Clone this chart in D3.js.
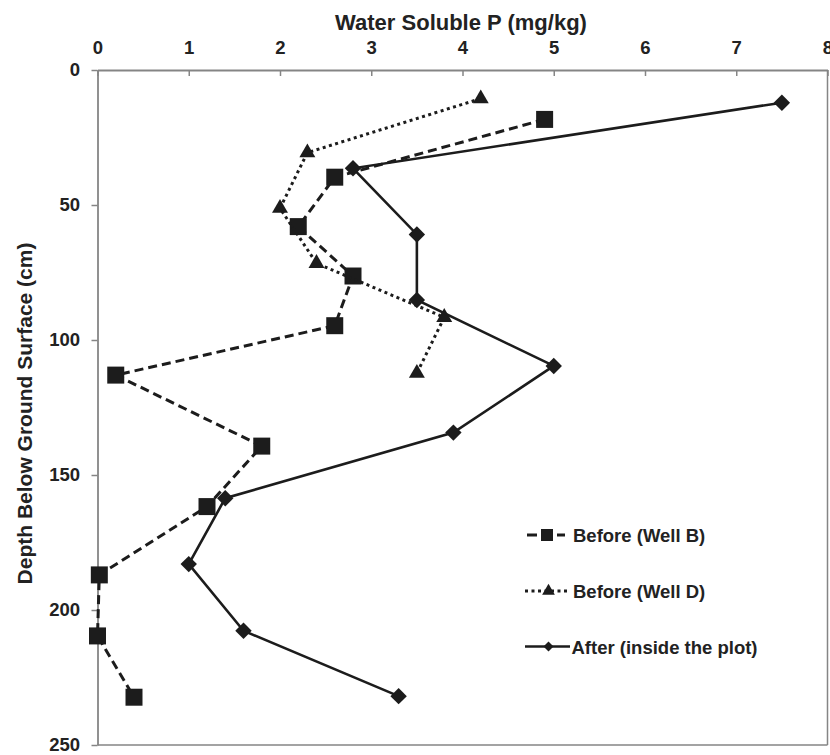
<!DOCTYPE html>
<html>
<head>
<meta charset="utf-8">
<script src="https://cdn.jsdelivr.net/npm/d3@7"></script>
<style>
  body { margin: 0; background: #fff; }
  svg text { font-family: Arial, "Liberation Sans", sans-serif; font-weight: bold; fill: #222; }
</style>
</head>
<body>
<svg id="chart" width="830" height="755"></svg>
<script>
// Water soluble P vs depth, three profiles.

const xTicks = [0, 1, 2, 3, 4, 5, 6, 7, 8]
const yTicks = [0, 50, 100, 150, 200, 250]

// [P (mg/kg), depth (cm)]
const wellB = [[4.9, 18.3], [2.6, 39.7], [2.2, 58], [2.8, 76.3], [2.6, 94.7], [0.2, 113],
  [1.8, 139.3], [1.2, 161.7], [0.02, 187], [0.0, 209.6], [0.4, 232.3]]
const wellD = [[4.2, 10.6], [2.3, 30.6], [2.0, 51.2], [2.4, 71.6], [3.8, 91.6], [3.5, 112.3]]
const after = [[7.5, 12.1], [2.8, 36.4], [3.5, 60.9], [3.5, 85.2], [5.0, 109.6], [3.9, 134.3],
  [1.4, 158.6], [1.0, 183], [1.6, 207.7], [3.3, 231.9]]

const seriesNames = ["Before (Well B)", "Before (Well D)", "After (inside the plot)"]

const INK = "#1c1c1c"
const AXIS = "#858585"

// d3's diamond is too skinny, use a square turned 45deg
function diamond(size) {
  var p = d3.symbol().type(d3.symbolSquare).size(size)
  return p
}

function main() {
  var svg = d3.select("#chart")

  var x = d3.scaleLinear().domain([0, 8]).range([97.5, 827.5])
  var y = d3.scaleLinear().domain([0, 250]).range([70, 745])

  // frame: bottom + right are plain lines
  svg.append("line").attr("x1", x(0)).attr("x2", x(8)).attr("y1", y(250)).attr("y2", y(250))
    .attr("stroke", AXIS).attr("stroke-width", 1.5)
  svg.append("line").attr("x1", x(8)).attr("x2", x(8)).attr("y1", y(0)).attr("y2", y(250))
    .attr("stroke", AXIS).attr("stroke-width", 1.5)

  // top axis, ticks point down into the plot
  var gx = svg.append("g").attr("transform", `translate(0,${y(0)})`)
    .call(d3.axisTop(x).tickValues(xTicks).tickSizeInner(-6).tickSizeOuter(0).tickPadding(16))
  gx.selectAll("text").attr("font-size", 18.5).attr("fill", "#222")
  gx.select(".domain").attr("stroke", AXIS).attr("stroke-width", 2.2)
  gx.selectAll(".tick line").attr("stroke", AXIS).attr("stroke-width", 1.5)

  var gy = svg.append("g").attr("transform", `translate(${x(0)},0)`)
    .call(d3.axisLeft(y).tickValues(yTicks).tickSizeInner(6).tickSizeOuter(0).tickPadding(11.5))
  gy.selectAll("text").attr("font-size", 18.5).attr("fill", "#222")
  gy.select(".domain").attr("stroke", AXIS).attr("stroke-width", 1.8)
  gy.selectAll(".tick line").attr("stroke", AXIS).attr("stroke-width", 1.5)

  // titles
  svg.append("text").attr("x", 461).attr("y", 29.5)
    .attr("text-anchor", "middle").attr("font-size", 22).text("Water Soluble P (mg/kg)")
  svg.append("text").attr("transform", `translate(31.5,${(y(0) + y(250)) / 2 + 6}) rotate(-90)`)
    .attr("text-anchor", "middle").attr("font-size", 21).text("Depth Below Ground Surface (cm)")

  var line = d3.line().x(d => x(d[0])).y(d => y(d[1]))

  var styles = [
    { data: wellB, dash: "9,5", width: 3, sym: d3.symbol().type(d3.symbolSquare).size(289), rot: 0,
      legSym: d3.symbol().type(d3.symbolSquare).size(144) },
    { data: wellD, dash: "3,3.5", width: 3, sym: d3.symbol().type(d3.symbolTriangle).size(110), rot: 0,
      legSym: d3.symbol().type(d3.symbolTriangle).size(70) },
    { data: after, dash: null, width: 2.6, sym: diamond(135), rot: 45,
      legSym: diamond(50) }
  ]

  styles.forEach(s => {
    var g = svg.append("g")
    g.append("path").datum(s.data).attr("d", line)
      .attr("fill", "none").attr("stroke", INK).attr("stroke-width", s.width)
      .attr("stroke-dasharray", s.dash)
    g.selectAll("path.m").data(s.data).join("path").attr("class", "m")
      .attr("d", s.sym)
      .attr("transform", d => `translate(${x(d[0])},${y(d[1])}) rotate(${s.rot})`)
      .attr("fill", INK)
  })

  // legend
  var legY = [535, 591, 646.5]
  var legX1 = [527, 525, 525], legX2 = [565, 570, 570]
  var legDash = ["10,5", "3,3.5", null]
  styles.forEach((s, i) => {
    var g = svg.append("g").attr("transform", `translate(0,${legY[i]})`)
    var x1 = legX1[i], x2 = legX2[i]
    g.append("line").attr("x1", x1).attr("x2", x2)
      .attr("stroke", INK).attr("stroke-width", s.width).attr("stroke-dasharray", legDash[i])
    g.append("path").attr("d", s.legSym).attr("transform", `translate(${(x1 + x2) / 2 + 1},0) rotate(${s.rot})`).attr("fill", INK)
    g.append("text").attr("x", i == 2 ? 571.5 : 573).attr("y", 7).attr("font-size", 18.5).text(seriesNames[i])
  })
}

main()
</script>
</body>
</html>
